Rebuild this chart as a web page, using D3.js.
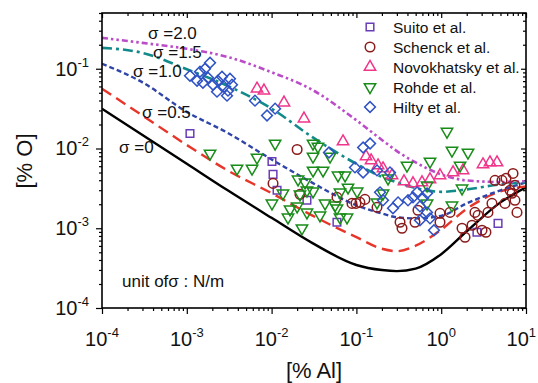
<!DOCTYPE html>
<html>
<head>
<meta charset="utf-8">
<script src="https://cdn.jsdelivr.net/npm/d3@7"></script>
<style>
  html, body { margin: 0; padding: 0; background: #fff; }
  svg { display: block; font-family: "Liberation Sans", Arial, Helvetica, sans-serif; }
</style>
</head>
<body>
<svg id="chart" width="538" height="383"></svg>
<script>
// ---------- DATA ----------
const curveX  = [1e-4, 3e-4, 1e-3, 3e-3, 0.01, 0.03, 0.1, 0.2, 0.3, 0.5, 1, 2, 5, 10];
const sigma0  = [0.0316, 0.0148, 0.00644, 0.00301, 0.00135, 6.55e-4, 3.46e-4, 2.99e-4, 2.90e-4, 3.12e-4, 4.73e-4, 9.17e-4, 2.11e-3, 3.25e-3];
const sigma05 = [0.0562, 0.0259, 0.01106, 0.00534, 0.00275, 0.00145, 7.72e-4, 5.53e-4, 5.16e-4, 6.04e-4, 9.58e-4, 1.75e-3, 2.90e-3, 3.35e-3];
const sigma10 = [0.1155, 0.0674, 0.0288, 0.0158, 0.00729, 0.00373, 0.00194, 0.00153, 0.00137, 0.00133, 0.00143, 0.00205, 0.00299, 0.00376];
const sigma15 = [0.183, 0.158, 0.0986, 0.0613, 0.0316, 0.01396, 0.00642, 0.00440, 0.00376, 0.00319, 0.00286, 0.00307, 0.00355, 0.00376];
const sigma20 = [0.244, 0.211, 0.178, 0.141, 0.0904, 0.0546, 0.0226, 0.0128, 0.00928, 0.00668, 0.00473, 0.00398, 0.00380, 0.00390];
const curveLabels = ["σ =0", "σ =0.5", "σ =1.0", "σ =1.5", "σ =2.0"];

const suitoX = [1.09e-3, 0.0101, 0.0104, 0.0116, 0.0261, 0.0590, 2.64, 4.68];
const suitoY = [0.0154, 6.88e-3, 4.73e-3, 2.99e-3, 2.24e-3, 1.19e-3, 8.91e-4, 1.15e-3];

const schenckX = [0.0200, 0.0104, 0.0216, 0.0590, 0.0887, 0.0989, 0.110, 0.126, 0.175, 0.327, 0.345, 0.491, 0.532, 0.968, 0.968, 1.27, 1.76, 1.91, 2.31, 2.50, 2.72, 3.03, 3.37, 3.56, 3.97, 4.31, 5.21, 5.81, 7.03, 7.41, 6.47, 5.65, 7.41, 7.83, 6.84];
const schenckY = [9.72e-3, 3.65e-3, 2.66e-3, 2.44e-3, 2.05e-3, 2.05e-3, 2.11e-3, 2.30e-3, 1.83e-3, 1.19e-3, 1.00e-3, 1.19e-3, 1.68e-3, 1.54e-3, 1.19e-3, 1.58e-3, 1.00e-3, 7.72e-4, 1.09e-3, 1.58e-3, 1.45e-3, 9.44e-4, 8.91e-4, 1.58e-3, 2.05e-3, 3.98e-3, 3.98e-3, 4.22e-3, 4.87e-3, 3.45e-3, 2.99e-3, 2.05e-3, 2.24e-3, 1.58e-3, 2.74e-3];

const novoX = [6.73e-3, 8.13e-3, 0.0140, 0.0241, 0.0695, 0.130, 0.149, 0.180, 0.206, 0.263, 0.364, 0.465, 0.594, 0.738, 0.968, 1.38, 1.81, 3.11, 3.76, 4.55];
const novoY = [0.0562, 0.0531, 0.0376, 0.0237, 0.01224, 7.94e-3, 7.08e-3, 6.13e-3, 5.62e-3, 4.60e-3, 3.87e-3, 3.65e-3, 3.76e-3, 4.10e-3, 4.60e-3, 5.01e-3, 5.31e-3, 6.31e-3, 6.68e-3, 6.68e-3];

const rohdeX = [1.88e-3, 3.91e-3, 5.88e-3, 6.73e-3, 0.0110, 0.0308, 0.0352, 0.0308, 0.0489, 0.0308, 0.0404, 0.0205, 0.0248, 0.0607, 0.0735, 0.0136, 0.0261, 0.0308, 0.0641, 0.0796, 0.102, 0.0101, 0.0165, 0.0156, 0.0228, 0.0200, 0.0261, 0.0372, 0.0427, 0.0560, 0.0641, 0.0775, 0.0216, 0.175, 0.206, 0.236, 0.395, 0.738, 1.17, 1.34, 2.07, 1.67, 1.76, 0.681, 1.34, 0.681, 0.0590];
const rohdeY = [8.66e-3, 5.62e-3, 5.62e-3, 7.72e-3, 0.01155, 0.01155, 0.0106, 7.94e-3, 7.94e-3, 5.31e-3, 5.31e-3, 4.10e-3, 3.76e-3, 4.60e-3, 4.60e-3, 2.74e-3, 2.99e-3, 2.90e-3, 2.82e-3, 3.25e-3, 2.90e-3, 2.05e-3, 1.73e-3, 1.37e-3, 1.00e-3, 1.88e-3, 1.58e-3, 1.45e-3, 2.05e-3, 1.94e-3, 1.37e-3, 1.37e-3, 2.66e-3, 2.11e-3, 2.74e-3, 4.22e-3, 6.13e-3, 6.88e-3, 0.0163, 9.44e-3, 8.91e-3, 6.13e-3, 3.16e-3, 3.45e-3, 1.94e-3, 2.05e-3, 1.78e-3];

const hiltyX = [1.09e-3, 1.32e-3, 1.43e-3, 1.64e-3, 1.88e-3, 1.78e-3, 2.04e-3, 1.55e-3, 2.27e-3, 2.33e-3, 2.60e-3, 2.75e-3, 3.06e-3, 3.23e-3, 3.41e-3, 2.98e-3, 6.37e-3, 8.83e-3, 0.0110, 0.0475, 0.120, 0.145, 0.0962, 0.120, 0.175, 0.249, 0.190, 0.206, 0.270, 0.310, 0.406, 0.465, 0.519, 0.610, 0.681, 0.562, 0.681, 0.562, 0.738, 0.822];
const hiltyY = [0.0818, 0.0708, 0.0917, 0.100, 0.119, 0.0772, 0.0631, 0.0668, 0.0516, 0.0708, 0.0794, 0.0596, 0.0531, 0.0750, 0.0631, 0.0460, 0.0398, 0.0259, 0.0316, 8.91e-3, 0.0103, 0.01155, 5.79e-3, 5.01e-3, 5.31e-3, 5.01e-3, 2.82e-3, 2.24e-3, 1.78e-3, 2.11e-3, 2.24e-3, 2.44e-3, 2.82e-3, 2.37e-3, 2.74e-3, 1.88e-3, 1.58e-3, 1.26e-3, 1.33e-3, 9.44e-4];

const seriesNames = ["Suito et al.", "Schenck et al.", "Novokhatsky et al.", "Rohde et al.", "Hilty et al."];
const xTickValues = [1e-4, 1e-3, 1e-2, 1e-1, 1, 10];
const xTickExp = ["-4", "-3", "-2", "-1", "0", "1"];
const yTickValues = [1e-4, 1e-3, 1e-2, 1e-1];
const yTickExp = ["-4", "-3", "-2", "-1"];

// ---------- CHART ----------
const svg = d3.select("#chart");
const L = 102, R = 526, T = 13, B = 308;
const x = d3.scaleLog().domain([1e-4, 10]).range([L, R]);
const y = d3.scaleLog().domain([1e-4, 0.5]).range([B, T]);

svg.append("defs").append("clipPath").attr("id", "clip")
  .append("rect").attr("x", L).attr("y", T).attr("width", R - L).attr("height", B - T);

const minorX = [], minorY = [];
for (let e = -4; e <= 0; e++) for (let m = 2; m <= 9; m++) minorX.push(m * Math.pow(10, e));
for (let e = -4; e <= -1; e++) for (let m = 2; m <= 9; m++) { const v = m * Math.pow(10, e); if (v <= 0.5) minorY.push(v); }

function styleAxis(g) {
  g.select(".domain").remove();
  g.selectAll("line").attr("stroke", "#000").attr("stroke-width", 1.2);
}
svg.append("g").attr("transform", `translate(0,${B})`).call(d3.axisBottom(x).tickValues(xTickValues).tickSize(6).tickFormat("")).call(styleAxis);
svg.append("g").attr("transform", `translate(0,${B})`).call(d3.axisBottom(x).tickValues(minorX).tickSize(3).tickFormat("")).call(styleAxis);
svg.append("g").attr("transform", `translate(0,${T})`).call(d3.axisTop(x).tickValues(xTickValues).tickSize(-5).tickFormat("")).call(styleAxis);
svg.append("g").attr("transform", `translate(0,${T})`).call(d3.axisTop(x).tickValues(minorX).tickSize(-3).tickFormat("")).call(styleAxis);
svg.append("g").attr("transform", `translate(${L},0)`).call(d3.axisLeft(y).tickValues(yTickValues).tickSize(6).tickFormat("")).call(styleAxis);
svg.append("g").attr("transform", `translate(${L},0)`).call(d3.axisLeft(y).tickValues(minorY).tickSize(3).tickFormat("")).call(styleAxis);
svg.append("g").attr("transform", `translate(${R},0)`).call(d3.axisRight(y).tickValues(yTickValues).tickSize(-5).tickFormat("")).call(styleAxis);
svg.append("g").attr("transform", `translate(${R},0)`).call(d3.axisRight(y).tickValues(minorY).tickSize(-3).tickFormat("")).call(styleAxis);

// tick labels
xTickValues.forEach((v, i) => {
  const last = i === xTickValues.length - 1;
  const t = svg.append("text").attr("x", last ? 536 : x(v)).attr("y", 346)
    .attr("text-anchor", last ? "end" : "middle")
    .attr("font-size", 20).attr("fill", "#111");
  t.append("tspan").text("10");
  t.append("tspan").attr("dy", -9).attr("font-size", 13).text(xTickExp[i]);
});
yTickValues.forEach((v, i) => {
  const t = svg.append("text").attr("x", 89).attr("y", y(v) + 7).attr("text-anchor", "end")
    .attr("font-size", 20).attr("fill", "#111");
  t.append("tspan").text("10");
  t.append("tspan").attr("dy", -9).attr("font-size", 13).text(yTickExp[i]);
});

// axis titles
svg.append("text").attr("x", 314).attr("y", 378).attr("text-anchor", "middle")
  .attr("font-size", 22).attr("fill", "#111").text("[% Al]");
svg.append("text").attr("transform", "translate(32,161) rotate(-90)").attr("text-anchor", "middle")
  .attr("font-size", 22).attr("fill", "#111").text("[% O]");

// curves
const curves = [
  { ys: sigma0,  color: "#000000", dash: null,              w: 2.4 },
  { ys: sigma05, color: "#e8352a", dash: "11,6",            w: 2.4 },
  { ys: sigma10, color: "#2f44a8", dash: "5,3",             w: 2.4 },
  { ys: sigma15, color: "#128a8a", dash: "10,4,3,4",        w: 2.6 },
  { ys: sigma20, color: "#bb4cc8", dash: "6,3,2.5,3,2.5,3", w: 2.6 }
];
const line = d3.line().x(d => x(d[0])).y(d => y(d[1])).curve(d3.curveMonotoneX);
const cg = svg.append("g").attr("clip-path", "url(#clip)");
curves.forEach(c => {
  cg.append("path").datum(curveX.map((v, i) => [v, c.ys[i]]))
    .attr("d", line).attr("fill", "none").attr("stroke", c.color)
    .attr("stroke-width", c.w).attr("stroke-dasharray", c.dash);
});

// curve labels
const labelPos = [[119, 153], [142, 118], [133, 77], [153, 58], [148, 39]];
curveLabels.forEach((s, i) => {
  svg.append("text").attr("x", labelPos[i][0]).attr("y", labelPos[i][1])
    .attr("font-size", 17).attr("fill", "#111").text(s);
});
svg.append("text").attr("x", 122).attr("y", 287).attr("font-size", 17).attr("fill", "#111").text("unit ofσ : N/m");

// markers
const sq = d3.symbol().type(d3.symbolSquare).size(58)();
const ci = d3.symbol().type(d3.symbolCircle).size(72)();
const tri = d3.symbol().type(d3.symbolTriangle).size(56)();
const series = [
  { xs: suitoX,   ys: suitoY,   path: sq,  rot: 0,   color: "#6a3db8" },
  { xs: schenckX, ys: schenckY, path: ci,  rot: 0,   color: "#8b1a1a" },
  { xs: novoX,    ys: novoY,    path: tri, rot: 0,   color: "#f0358a" },
  { xs: rohdeX,   ys: rohdeY,   path: tri, rot: 180, color: "#188c18" },
  { xs: hiltyX,   ys: hiltyY,   path: sq,  rot: 45,  color: "#2f52c4" }
];
const mg = svg.append("g").attr("clip-path", "url(#clip)");
series.forEach(s => {
  mg.append("g").selectAll("path").data(s.xs.map((v, i) => [v, s.ys[i]])).join("path")
    .attr("d", s.path)
    .attr("transform", d => `translate(${x(d[0])},${y(d[1])}) rotate(${s.rot})`)
    .attr("fill", "none").attr("stroke", s.color).attr("stroke-width", 1.5);
});

// legend
const lg = svg.append("g");
seriesNames.forEach((n, i) => {
  const cy = 27 + i * 20;
  const s = series[i];
  lg.append("path").attr("d", s.path).attr("transform", `translate(370,${cy}) rotate(${s.rot})`)
    .attr("fill", "none").attr("stroke", s.color).attr("stroke-width", 1.5);
  lg.append("text").attr("x", 393).attr("y", cy + 6).attr("font-size", 15.5).attr("fill", "#111").text(n);
});

// frame
svg.append("rect").attr("x", L).attr("y", T).attr("width", R - L).attr("height", B - T)
  .attr("fill", "none").attr("stroke", "#000").attr("stroke-width", 1.6);
</script>
</body>
</html>
